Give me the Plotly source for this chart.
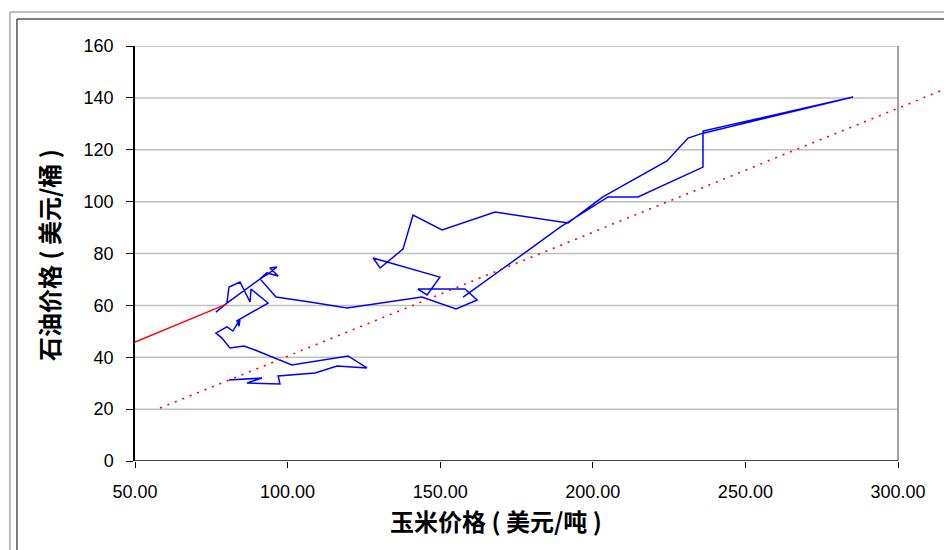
import plotly.graph_objects as go

# Blue path: corn price (USD/ton) vs oil price (USD/barrel)
corn = [80.8, 91.6, 86.7, 97.5, 96.9, 109.0, 116.2, 126.0, 119.8, 101.4, 89.3, 85.7, 81.1,
        78.5, 76.5, 80.1, 82.1, 84.4, 84.1, 83.4, 93.6, 88.0, 87.7, 84.4, 80.8, 80.1, 76.5,
        80.1, 91.0, 93.6, 96.5, 94.2, 96.9, 93.2, 91.0, 96.2, 107.3, 119.5, 144.0, 155.2,
        162.1, 158.1, 142.7, 145.7, 149.9, 128.0, 130.3, 137.8, 141.1, 150.6, 168.0, 191.9,
        203.3, 224.3, 231.2, 236.1, 285.3, 236.1, 236.1, 214.8, 205.0, 189.3, 179.4, 157.5]
oil = [31.2, 32.0, 30.1, 29.7, 32.8, 33.9, 36.6, 35.9, 40.5, 37.0, 42.8, 44.3, 43.6,
       47.4, 49.3, 51.7, 50.1, 54.7, 52.0, 54.0, 60.9, 66.3, 61.3, 69.0, 67.1, 60.9, 57.4,
       60.9, 70.2, 72.1, 74.8, 74.4, 71.3, 72.5, 70.2, 63.2, 61.3, 59.0, 63.2, 58.6,
       62.1, 66.3, 66.3, 64.0, 70.9, 78.3, 74.4, 81.7, 94.8, 89.1, 96.0, 91.8,
       101.8, 115.7, 124.5, 126.4, 140.3, 127.2, 113.3, 101.8, 101.8, 90.2, 81.7, 63.2]

red_x = [50.0, 80.0]
red_y = [45.9, 60.5]

trend_x = [58.2, 315.0]
trend_y = [20.4, 143.2]

x_ticks = [50, 100, 150, 200, 250, 300]
y_ticks = [0, 20, 40, 60, 80, 100, 120, 140, 160]

x_title = "玉米价格 ( 美元/吨 )"
y_title = "石油价格 ( 美元/桶 )"

fig = go.Figure()
fig.add_trace(go.Scatter(x=corn, y=oil, mode="lines",
                         line=dict(color="#0000ff", width=1.5), showlegend=False))
fig.add_trace(go.Scatter(x=red_x, y=red_y, mode="lines",
                         line=dict(color="#ff0000", width=1.5), showlegend=False))
fig.add_trace(go.Scatter(x=trend_x, y=trend_y, mode="lines",
                         line=dict(color="#ff0000", width=1.6, dash="2px,6px"), showlegend=False))

shapes = []
for v in y_ticks[1:]:
    shapes.append(dict(type="line", xref="x", yref="y", x0=x_ticks[0], x1=x_ticks[-1], y0=v, y1=v,
                       line=dict(color="#c0c0c0", width=1.5), layer="below"))
# right border of plot area
shapes.append(dict(type="line", xref="x", yref="y", x0=x_ticks[-1], x1=x_ticks[-1],
                   y0=y_ticks[0], y1=y_ticks[-1], line=dict(color="#a0a0a0", width=2), layer="below"))
# bottom axis line
shapes.append(dict(type="line", xref="x", yref="y", x0=x_ticks[0], x1=x_ticks[-1],
                   y0=0, y1=0, line=dict(color="#000000", width=1.5), layer="above"))
# outer frame (double border)
shapes.append(dict(type="rect", xref="paper", yref="paper", x0=-0.1545, x1=1.02, y0=-0.24, y1=1.0819,
                   line=dict(color="#808080", width=1), layer="above"))
shapes.append(dict(type="rect", xref="paper", yref="paper", x0=-0.1459, x1=1.03, y0=-0.25, y1=1.065,
                   line=dict(color="#000000", width=1), layer="above"))

title_font = dict(family="Noto Sans CJK SC", size=24, color="black", weight="bold")

fig.update_layout(
    width=944, height=550,
    margin=dict(l=135, r=0, t=46, b=89),
    paper_bgcolor="white", plot_bgcolor="white",
    font=dict(family="Liberation Sans, Arial", size=18, color="black"),
    shapes=shapes,
    xaxis=dict(range=[50, 315.07], tickvals=x_ticks, tickformat=".2f",
               showgrid=False, zeroline=False, showline=False,
               ticks="outside", ticklen=6, tickcolor="black", tickwidth=1,
               ticklabelstandoff=8, fixedrange=True),
    yaxis=dict(range=[0, 160], tickvals=y_ticks, showgrid=False, zeroline=False,
               showline=True, linecolor="black", linewidth=1.5,
               ticks="outside", ticklen=7, tickcolor="black", tickwidth=1,
               ticklabelstandoff=9, fixedrange=True),
    annotations=[
        dict(text=x_title, xref="paper", yref="paper", x=0.4462, y=-0.1422,
             xanchor="center", yanchor="middle", showarrow=False, font=title_font),
        dict(text=y_title, xref="paper", yref="paper", x=-0.1063, y=0.4964,
             xanchor="center", yanchor="middle", showarrow=False, textangle=-90, font=title_font),
    ],
)

fig.write_html("out.html", config={"displayModeBar": False},
               post_script="document.body.style.margin='0';document.body.style.overflow='hidden';")
